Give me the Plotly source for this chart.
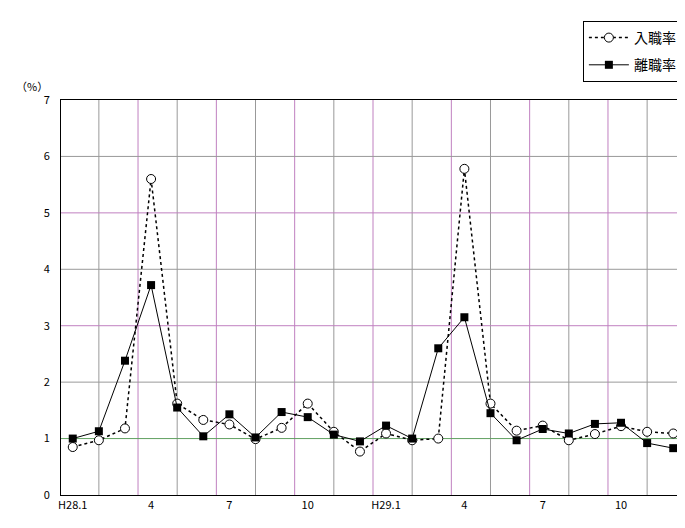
import plotly.graph_objects as go

months = list(range(24))
tick_vals = [0, 3, 6, 9, 12, 15, 18, 21]
tick_text = ["H28.1", "4", "7", "10", "H29.1", "4", "7", "10"]
hire = [0.85,0.97,1.18,5.6,1.62,1.33,1.25,0.99,1.19,1.62,1.12,0.77,1.09,0.97,1.0,5.78,1.62,1.14,1.23,0.97,1.08,1.22,1.12,1.09]
sep = [1.0,1.13,2.38,3.72,1.55,1.04,1.43,1.02,1.47,1.38,1.07,0.95,1.23,1.0,2.6,3.15,1.45,0.97,1.17,1.09,1.26,1.28,0.92,0.83]

font = "Noto Sans CJK JP"
fig = go.Figure()
fig.add_trace(go.Scatter(x=months, y=hire, name="入職率", mode="lines+markers", legendgroup="a",
    line=dict(color="black", width=1.5, dash="dot"),
    marker=dict(symbol="circle", size=9, color="white", line=dict(color="black", width=1))))
fig.add_trace(go.Scatter(x=months, y=sep, name="離職率", mode="lines+markers", legendgroup="b",
    line=dict(color="black", width=1),
    marker=dict(symbol="square", size=8, color="black")))

shapes = []
k = 0
g = 1.0
while g < 23.5:
    shapes.append(dict(type="line", xref="x", yref="paper", x0=g, x1=g, y0=0, y1=1,
        line=dict(color="#999999" if k % 2 == 0 else "#c080c0", width=1), layer="below"))
    g += 1.5
    k += 1
for yv in range(1, 7):
    col = "#60a060" if yv == 1 else ("#c080c0" if yv in (3, 5) else "#999999")
    shapes.append(dict(type="line", xref="paper", yref="y", x0=0, x1=1, y0=yv, y1=yv,
        line=dict(color=col, width=1), layer="below"))

fig.update_layout(
    width=685, height=528, paper_bgcolor="white", plot_bgcolor="white",
    margin=dict(l=53, r=8, t=92, b=41, autoexpand=False),
    font=dict(family=font, size=11, color="black"),
    shapes=shapes,
    xaxis=dict(range=[-0.45, 23.45], tickvals=tick_vals, ticktext=tick_text, automargin=False,
        showgrid=False, zeroline=False, showline=True, linecolor="black", mirror=True,
        ticks="", tickfont=dict(size=11)),
    yaxis=dict(range=[0, 7], dtick=1, showgrid=False, zeroline=False, showline=True, automargin=False,
        linecolor="black", mirror=True, ticks="", tickfont=dict(size=11), ticklabelstandoff=8),
    legend=dict(x=0.995, y=1.2, xanchor="right", yanchor="top", bordercolor="black",
        borderwidth=1, bgcolor="white", font=dict(size=14), tracegroupgap=6, itemwidth=40),
    annotations=[dict(text="（%）", xref="paper", yref="paper", x=-0.075, y=1.06,
        showarrow=False, xanchor="left", font=dict(size=11))],
)
fig.write_html("out.html")
